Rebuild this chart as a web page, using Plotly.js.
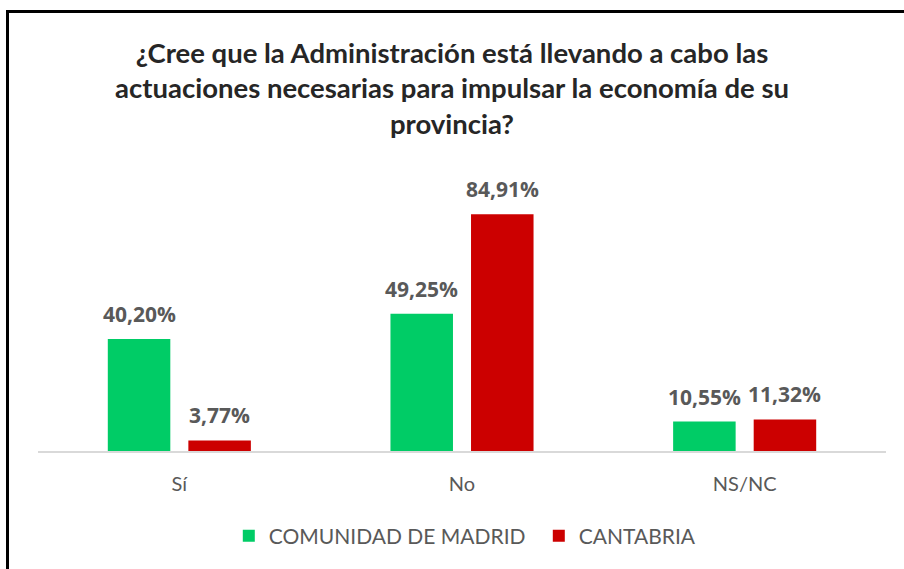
<!DOCTYPE html>
<html>
<head>
<meta charset="utf-8">
<script src="https://cdn.plot.ly/plotly-3.0.1.min.js"></script>
<style>
html, body { margin:0; padding:0; width:904px; height:569px; overflow:hidden; background:#fff; }
#chart { position:absolute; left:0; top:0; width:904px; height:569px; }
#frame { position:absolute; left:6px; top:10px; width:1000px; height:700px; border:3px solid #000; pointer-events:none; }
</style>
</head>
<body>
<div id="chart"></div>
<div id="frame"></div>
<script>
const categories = ["Sí", "No", "NS/NC"];
const seriesNames = ["COMUNIDAD DE MADRID", "CANTABRIA"];
const madrid = [40.20, 49.25, 10.55];
const cantabria = [3.77, 84.91, 11.32];
const titleLines = [
  "¿Cree que la Administración está llevando a cabo las",
  "actuaciones necesarias para impulsar la economía de su",
  "provincia?"
];

const colors = ["#00CC66", "#CC0000"];
const fmt = v => v.toFixed(2).replace(".", ",") + "%";

const traces = [madrid, cantabria].map((vals, i) => ({
  type: "bar",
  name: seriesNames[i],
  x: categories,
  y: vals,
  marker: { color: colors[i], line: { width: 0 } },
  hoverinfo: "skip"
}));

const annotations = [];
[madrid, cantabria].forEach((vals, i) => {
  vals.forEach((v, j) => {
    annotations.push({
      x: categories[j], y: v, xref: "x", yref: "y",
      xshift: i === 0 ? -40.25 : 40.25, yshift: 9,
      yanchor: "bottom", showarrow: false,
      text: fmt(v),
      font: { family: "Open Sans", size: 21, color: "#595959", weight: "bold" }
    });
  });
});

const layout = {
  width: 904, height: 569,
  margin: { l: 38, r: 18, t: 200, b: 118 },
  paper_bgcolor: "#ffffff", plot_bgcolor: "#ffffff",
  title: {
    text: titleLines.join("<br>"),
    x: 0.5, xref: "container", xanchor: "center",
    y: 0.89, yref: "container", yanchor: "top",
    font: { family: "Lato", size: 27.5, color: "#262626", weight: "bold" }
  },
  barmode: "group",
  bargap: 0.43,
  bargroupgap: 0.224,
  xaxis: {
    type: "category",
    showline: true, linecolor: "#d9d9d9", linewidth: 1.5,
    showgrid: false, zeroline: false,
    ticks: "outside", ticklen: 14, tickcolor: "rgba(0,0,0,0)",
    tickfont: { family: "Lato", size: 20, color: "#595959" }
  },
  yaxis: {
    range: [0, 90], visible: false, showgrid: false, zeroline: false
  },
  showlegend: true,
  legend: {
    orientation: "h", x: 0.225, xanchor: "left", y: -0.339, yanchor: "middle",
    font: { family: "Lato", size: 21, color: "#595959" },
    traceorder: "normal",
    entrywidth: 265, entrywidthmode: "pixels"
  },
  annotations: annotations
};

Plotly.newPlot("chart", traces, layout, { displayModeBar: false, staticPlot: true });
</script>
</body>
</html>
